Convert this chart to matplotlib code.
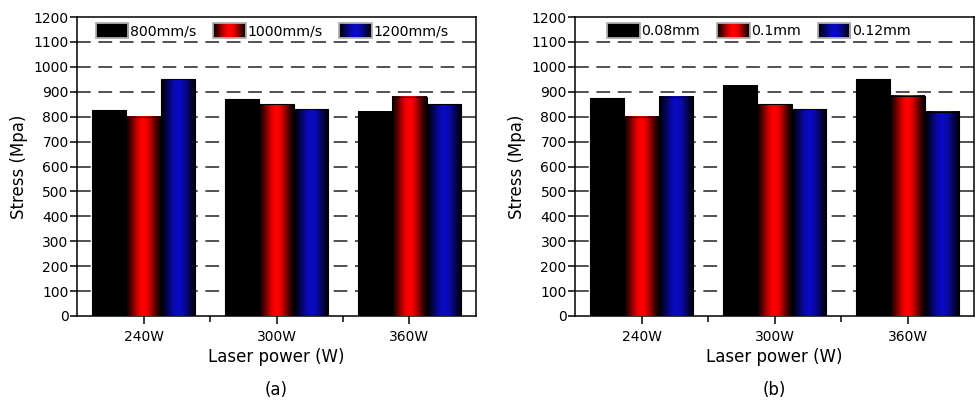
import numpy as np
import matplotlib
matplotlib.use("Agg")
import matplotlib.pyplot as plt
from matplotlib.legend_handler import HandlerBase
from matplotlib.patches import Rectangle
from matplotlib.image import BboxImage
from matplotlib.transforms import Bbox, TransformedBbox

plt.rcParams['font.family'] = ['DejaVu Sans']

categories = ["240W", "300W", "360W"]

# panel (a): scanning speed
labels_a = ["800mm/s", "1000mm/s", "1200mm/s"]
speed_800 = [825, 870, 820]
speed_1000 = [800, 850, 880]
speed_1200 = [950, 830, 850]

# panel (b): hatch spacing
labels_b = ["0.08mm", "0.1mm", "0.12mm"]
hatch_008 = [875, 925, 950]
hatch_010 = [800, 850, 885]
hatch_012 = [880, 830, 820]

yticks = list(range(0, 1201, 100))

base_colors = [(0.0, 0.0, 0.0), (1.0, 0.0, 0.0), (0.04, 0.04, 0.76)]


def gradient(color, n=96):
    t = np.linspace(0, 1, n)
    f = np.sin(np.pi * t) ** 1.6
    f = 0.08 + 0.92 * f
    arr = np.zeros((1, n, 3))
    for i in range(3):
        arr[0, :, i] = color[i] * f
    return arr


class GradHandler(HandlerBase):
    def __init__(self, color):
        super().__init__()
        self.color = color

    def create_artists(self, legend, orig_handle, xdescent, ydescent,
                       width, height, fontsize, trans):
        x0, y0 = -xdescent, -ydescent
        bb = TransformedBbox(Bbox.from_bounds(x0, y0, width, height), trans)
        img = BboxImage(bb, interpolation='bilinear')
        img.set_data(gradient(self.color))
        rect = Rectangle((x0, y0), width, height, facecolor='none',
                         edgecolor='#b0b0b0', linewidth=1.3, transform=trans)
        return [img, rect]


fig = plt.figure(figsize=(9.76, 4.05), dpi=100)
ax_a = fig.add_axes([0.0789, 0.2198, 0.4088, 0.738])
ax_b = fig.add_axes([0.5892, 0.2198, 0.4088, 0.738])


def draw_panel(ax, series, labels, tag, legend_x):
    x = np.arange(1, len(categories) + 1)
    w = 0.26
    handles = []
    for k, (vals, col) in enumerate(zip(series, base_colors)):
        offs = (k - 1) * w
        bars = ax.bar(x + offs, vals, width=w, facecolor='none',
                      edgecolor='black', linewidth=0.8, zorder=4, label=labels[k])
        for b in bars:
            bx, by = b.get_x(), b.get_y()
            bw, bh = b.get_width(), b.get_height()
            ax.imshow(gradient(col), extent=[bx, bx + bw, by, by + bh],
                      aspect='auto', interpolation='bilinear', zorder=3)
        handles.append(Rectangle((0, 0), 1, 1, facecolor=col))
    ax.set_xlim(0.5, 3.5)
    ax.set_ylim(0, 1200)
    ax.set_yticks(yticks)
    ax.set_xticks(x)
    ax.set_xticklabels(categories)
    ax.set_xticks([1.5, 2.5], minor=True)
    for yv in yticks[1:-1]:
        ax.axhline(yv, color='#222222', linewidth=1.1, linestyle=(0, (9, 5)), zorder=1)
    for s in ax.spines.values():
        s.set_linewidth(1.1)
    ax.tick_params(axis='y', direction='out', length=5, width=1.1, pad=1, labelsize=10)
    ax.tick_params(axis='x', which='major', direction='out', length=6, width=1.1, pad=4, labelsize=10)
    ax.tick_params(axis='x', which='minor', direction='out', length=4.5, width=1.1)
    ax.set_ylabel("Stress (Mpa)", fontsize=12, labelpad=4)
    ax.set_xlabel("Laser power (W)", fontsize=12, labelpad=3)
    ax.text(0.5, -0.247, tag, transform=ax.transAxes, ha='center', va='center', fontsize=12)
    hmap = {h: GradHandler(c) for h, c in zip(handles, base_colors)}
    ax.legend(handles, labels, handler_map=hmap, loc='upper center',
              bbox_to_anchor=(legend_x, 1.0), ncol=3, frameon=False,
              fontsize=10.2, handlelength=2.3, handleheight=1.25,
              handletextpad=0.1, columnspacing=1.2, borderaxespad=0.0)


draw_panel(ax_a, [speed_800, speed_1000, speed_1200], labels_a, "(a)", 0.489)
draw_panel(ax_b, [hatch_008, hatch_010, hatch_012], labels_b, "(b)", 0.461)

fig.savefig("out.png", dpi=100)
